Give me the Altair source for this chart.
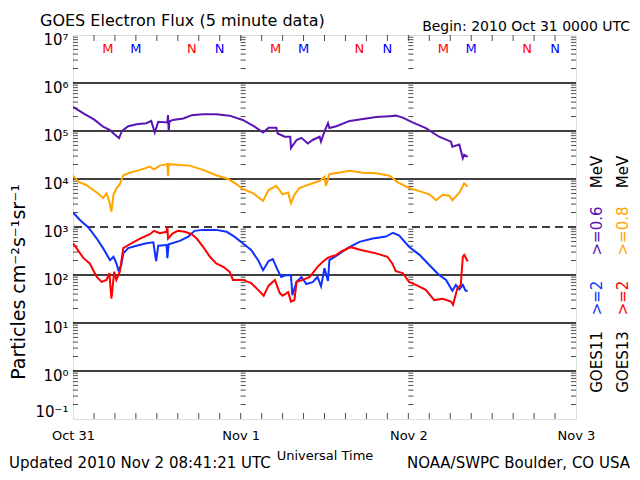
import json
import pandas as pd
import altair as alt

FONT = "DejaVu Sans"

# hours since 2010 Oct 31 00:00 UT
purple_t = [0, 1.5, 3.1, 4.3, 5.3, 5.8, 6.6, 7.0, 7.9, 9.1, 10.5, 11.2, 11.7, 12.2, 13.5, 13.6, 13.7, 13.8,
            14.3, 15.8, 17.0, 18.6, 20.5, 22.4, 24.3, 26.0, 27.2, 28.0, 29.1, 29.3, 30.3, 31.1, 31.2, 32.0,
            32.7, 33.6, 34.3, 35.3, 35.5, 36.0, 36.5, 36.7, 37.7, 39.6, 41.5, 43.4, 45.3, 46.2, 47.2, 48.6,
            50.5, 52.4, 54.1, 54.3, 55.3, 55.8, 56.0, 56.5]
purple_v = [3.2e5, 2.34e5, 1.7e5, 1.23e5, 1.05e5, 8.9e4, 7.1e4, 1.0e5, 1.26e5, 1.38e5, 1.45e5, 1.62e5, 9.3e4,
            1.55e5, 1.5e5, 2.14e5, 9.8e4, 1.58e5, 1.7e5, 1.82e5, 2.14e5, 2.24e5, 2.24e5, 2.09e5, 1.7e5, 1.23e5,
            9.3e4, 1.17e5, 1.17e5, 8.9e4, 7.6e4, 7.6e4, 4.4e4, 6.5e4, 7.2e4, 5.5e4, 6.5e4, 7.6e4, 6.0e4, 9.8e4,
            1.45e5, 1.15e5, 1.26e5, 1.62e5, 1.78e5, 1.95e5, 2.04e5, 2.09e5, 1.9e5, 1.51e5, 1.15e5, 7.6e4, 6.0e4,
            4.7e4, 5.2e4, 2.7e4, 3.2e4, 2.9e4]

orange_t = [0, 0.8, 1.9, 2.9, 3.6, 4.3, 4.8, 5.2, 5.5, 5.8, 6.2, 6.7, 7.2, 8.1, 9.6, 11.0, 11.6, 12.4, 13.5,
            13.6, 13.7, 15.3, 16.7, 18.6, 20.5, 22.2, 23.4, 24.3, 25.8, 27.2, 28.0, 29.1, 30.0, 30.8, 31.2,
            31.7, 32.4, 33.9, 35.3, 36.0, 36.2, 36.7, 39.6, 41.5, 43.4, 45.3, 46.5, 48.1, 49.6, 51.0, 52.0,
            52.9, 53.9, 54.3, 55.3, 56.0, 56.5]
orange_v = [1.17e4, 8.7e3, 7.5e3, 5.9e3, 5.0e3, 4.0e3, 5.0e3, 3.4e3, 2.1e3, 4.7e3, 6.3e3, 7.8e3, 1.2e4, 1.35e4,
            1.55e4, 1.82e4, 1.58e4, 1.9e4, 2.04e4, 1.15e4, 2.04e4, 1.95e4, 1.9e4, 1.55e4, 1.2e4, 1.0e4, 7.8e3,
            6.2e3, 5.0e3, 3.5e3, 5.9e3, 7.2e3, 4.8e3, 5.2e3, 3.1e3, 4.7e3, 6.5e3, 7.8e3, 9.1e3, 1.12e4, 7.2e3,
            1.26e4, 1.48e4, 1.35e4, 1.32e4, 1.17e4, 8.5e3, 6.5e3, 5.6e3, 4.8e3, 3.6e3, 4.7e3, 4.5e3, 3.6e3,
            5.2e3, 8.1e3, 6.9e3]

blue_t = [0, 1.0, 2.2, 3.4, 4.3, 5.3, 5.8, 6.2, 6.5, 6.9, 7.2, 7.9, 9.1, 10.5, 11.5, 11.9, 12.2, 13.4, 13.5,
          13.7, 15.3, 16.5, 17.4, 18.6, 20.5, 22.0, 23.1, 24.3, 25.5, 26.5, 27.2, 28.0, 28.6, 29.3, 29.8, 30.5,
          31.2, 31.4, 32.0, 32.7, 33.4, 34.3, 35.0, 35.5, 36.0, 36.5, 36.7, 37.9, 39.3, 41.0, 42.9, 44.8, 45.8,
          46.7, 48.1, 49.6, 51.0, 52.4, 53.4, 54.3, 54.8, 55.3, 55.8, 56.2, 56.5]
blue_v = [2.0e3, 1.4e3, 980, 575, 363, 204, 240, 178, 126, 158, 282, 363, 407, 457, 479, 195, 407, 422, 224,
          437, 513, 631, 832, 871, 871, 794, 631, 457, 331, 204, 126, 195, 214, 126, 91, 100, 98, 38, 72, 91,
          65, 71, 91, 58, 138, 75, 204, 263, 363, 490, 575, 631, 759, 661, 389, 263, 162, 100, 79, 47, 62, 50,
          62, 47, 47]

red_t = [0, 0.5, 1.5, 2.4, 2.9, 3.4, 4.1, 4.8, 5.2, 5.5, 5.9, 6.2, 6.7, 7.2, 8.1, 9.6, 11.0, 11.6, 12.4, 13.4,
         13.5, 13.6, 14.3, 15.0, 16.0, 17.0, 17.7, 18.6, 19.6, 20.5, 21.5, 22.4, 22.9, 24.3, 25.5, 26.5, 27.3,
         28.0, 28.9, 29.6, 30.0, 30.8, 31.2, 31.7, 32.0, 32.9, 33.9, 35.0, 35.8, 36.5, 37.7, 38.4, 39.8, 41.2,
         43.4, 45.0, 45.7, 46.2, 47.2, 48.1, 49.3, 50.5, 51.7, 52.9, 54.1, 54.4, 55.0, 55.5, 55.8, 56.0, 56.5]
red_v = [457, 363, 224, 174, 126, 91, 72, 79, 110, 32, 117, 79, 117, 363, 437, 575, 708, 832, 741, 794, 1020,
         575, 741, 832, 794, 708, 575, 389, 240, 174, 148, 117, 79, 79, 68, 49, 37, 60, 79, 42, 37, 44, 28, 30,
         72, 79, 91, 148, 191, 229, 263, 309, 380, 331, 282, 240, 174, 120, 110, 72, 60, 49, 30, 32, 28, 24, 52,
         62, 240, 263, 191]

series_names = ["GOES11 >=0.6 MeV", "GOES13 >=0.8 MeV", "GOES11 >=2 MeV", "GOES13 >=2 MeV"]
series_colors = ["#5a14b4", "#ffa500", "#1030ff", "#ff0000"]

day_labels = ["Oct 31", "Nov 1", "Nov 2", "Nov 3"]
day_hours = [0, 24, 48, 72]
decades = [0.1, 1, 10, 100, 1e3, 1e4, 1e5, 1e6, 1e7]
decade_labels = ["10⁻¹", "10⁰", "10¹", "10²", "10³", "10⁴", "10⁵", "10⁶", "10⁷"]
solid_lines = [1, 10, 100, 1e4, 1e5, 1e6]
dashed_lines = [1e3]

mn_hours = [5, 9, 17, 21, 29, 33, 41, 45, 53, 57, 65, 69]
mn_letters = ["M", "M", "N", "N"] * 3
mn_colors = ["#ff0000", "#0000ff", "#ff0000", "#0000ff"] * 3

minor_vals = [k * 10.0 ** d for d in range(-1, 7) for k in range(2, 10)]
x_tick_hours = list(range(3, 72, 3))

W, H = 503, 384

frames = []
for name, t, v in zip(series_names, [purple_t, orange_t, blue_t, red_t], [purple_v, orange_v, blue_v, red_v]):
    frames.append(pd.DataFrame({"t": t, "flux": v, "series": name}))
df = pd.concat(frames, ignore_index=True)

xscale = alt.Scale(domain=[0, 72], nice=False, zero=False)
yscale = alt.Scale(type="log", domain=[0.1, 1e7], nice=False)

x_axis = alt.Axis(values=day_hours, labelExpr=json.dumps(day_labels) + "[round(datum.value/24)]",
                  tickSize=0, domain=False, grid=False, labelFontSize=13, labelPadding=10,
                  labelFlush=False, labelColor="black", title="Universal Time", titleFontSize=13,
                  titleFontWeight="normal", titleColor="black", titlePadding=7, labelFont=FONT,
                  titleFont=FONT)
y_axis = alt.Axis(values=decades,
                  labelExpr=json.dumps(decade_labels, ensure_ascii=False) + "[round(log(datum.value)/LN10)+1]",
                  tickSize=0, domain=False, grid=False, labelFontSize=15, labelPadding=5,
                  labelColor="black",
                  labelBaseline=alt.condition("datum.value < 0.5", alt.value("bottom"), alt.value("top")),
                  labelOffset=alt.condition("datum.value < 0.5", alt.value(0), alt.value(-3)),
                  labelFlush=False, title=None, labelFont=FONT)


def X(field):
    return alt.X(field, scale=xscale, axis=x_axis)


def Y(field):
    return alt.Y(field, scale=yscale, axis=y_axis)


grid_solid = alt.Chart(pd.DataFrame({"v": solid_lines})).mark_rule(color="black", strokeWidth=1.5).encode(
    y=Y("v:Q"))
grid_dash = alt.Chart(pd.DataFrame({"v": dashed_lines})).mark_rule(
    color="black", strokeWidth=1.5, strokeDash=[8, 5]).encode(y=Y("v:Q"))

minor_df = pd.DataFrame([(t, v) for t in [0, 24, 48] for v in minor_vals], columns=["t", "v"])
minor_left = alt.Chart(minor_df).mark_tick(orient="horizontal", size=5, thickness=1, xOffset=2.5,
                                           color="black").encode(x=X("t:Q"), y=Y("v:Q"))
minor_right = alt.Chart(pd.DataFrame({"t": [72] * len(minor_vals), "v": minor_vals})).mark_tick(
    orient="horizontal", size=5, thickness=1, xOffset=-2.5, color="black").encode(x=X("t:Q"), y=Y("v:Q"))

xt_df = pd.DataFrame({"t": x_tick_hours})
xt_top = alt.Chart(xt_df).mark_tick(orient="vertical", size=6, thickness=1, yOffset=3, color="black").encode(
    x=X("t:Q"), y=alt.value(0))
xt_bot = alt.Chart(xt_df).mark_tick(orient="vertical", size=6, thickness=1, yOffset=-3, color="black").encode(
    x=X("t:Q"), y=alt.value(H))

lines = alt.Chart(df).mark_line(strokeWidth=2, clip=True).encode(
    x=X("t:Q"),
    y=Y("flux:Q"),
    color=alt.Color("series:N", scale=alt.Scale(domain=series_names, range=series_colors), legend=None),
    detail="series:N",
)

mn = alt.Chart(pd.DataFrame({"t": mn_hours, "letter": mn_letters, "c": mn_colors})).mark_text(
    fontSize=13, baseline="middle", align="center", font=FONT).encode(
    x=X("t:Q"), y=alt.value(14), text="letter:N",
    color=alt.Color("c:N", scale=None, legend=None))


def label(txt, x, y, size, color="black", align="left", angle=0, baseline="alphabetic"):
    return alt.Chart(pd.DataFrame({"label": [txt]})).mark_text(
        align=align, baseline=baseline, angle=angle, fontSize=size, color=color, font=FONT).encode(
        text="label:N", x=alt.value(x), y=alt.value(y))


texts = [
    label("GOES Electron Flux (5 minute data)", -33, -9, 16),
    label("Begin: 2010 Oct 31 0000 UTC", 557, -4, 14, align="right"),
    label("Updated 2010 Nov  2 08:41:21 UTC", -64, 433, 15),
    label("NOAA/SWPC Boulder, CO USA", 557, 433, 15, align="right"),
    label("Particles cm⁻²s⁻¹sr⁻¹", -54, 247, 19, align="center", angle=270, baseline="middle"),
    label("MeV", 524, 137, 15, align="center", angle=270, baseline="middle"),
    label(">=0.6", 524, 196, 15, series_colors[0], align="center", angle=270, baseline="middle"),
    label(">=2", 524, 263, 15, series_colors[2], align="center", angle=270, baseline="middle"),
    label("GOES11", 524, 327, 15, align="center", angle=270, baseline="middle"),
    label("MeV", 550, 137, 15, align="center", angle=270, baseline="middle"),
    label(">=0.8", 550, 196, 15, series_colors[1], align="center", angle=270, baseline="middle"),
    label(">=2", 550, 263, 15, series_colors[3], align="center", angle=270, baseline="middle"),
    label("GOES13", 550, 327, 15, align="center", angle=270, baseline="middle"),
]

chart = alt.layer(grid_solid, grid_dash, minor_left, minor_right, xt_top, xt_bot, lines, mn, *texts).properties(
    width=W, height=H,
    padding={"left": 65, "top": 27, "right": 56, "bottom": 53},
    autosize=alt.AutoSizeParams(type="none"),
    background="white",
).configure_view(stroke="black", strokeWidth=2).configure(font=FONT)

chart.save("out.html", embed_options={"renderer": "svg", "actions": False})
